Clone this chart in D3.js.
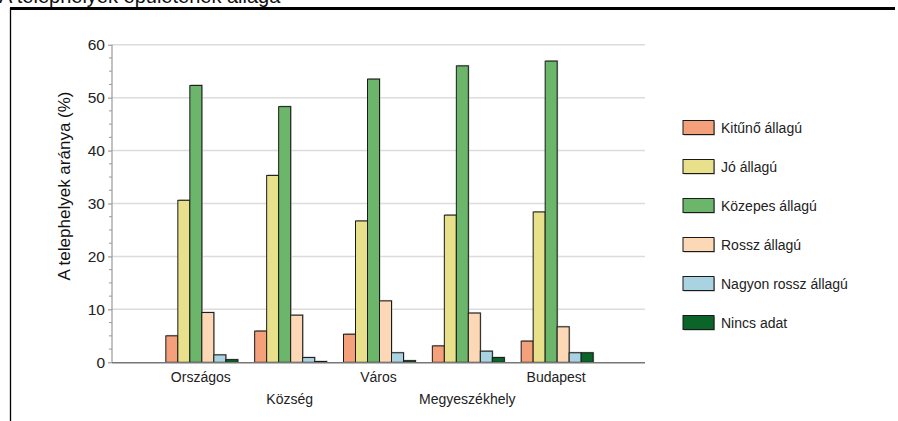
<!DOCTYPE html>
<html><head><meta charset="utf-8">
<script src="https://cdn.jsdelivr.net/npm/d3@7"></script>
<style>body{margin:0;background:#fff;}svg{display:block;font-family:"Liberation Sans",Arial,sans-serif;}</style>
</head><body><svg id="c" width="898" height="421"></svg>
<script>
const categories = ["Országos","Község","Város","Megyeszékhely","Budapest"];
const seriesNames = ["Kitűnő állagú","Jó állagú","Közepes állagú","Rossz állagú","Nagyon rossz állagú","Nincs adat"];
const kituno   = [5.0, 5.9, 5.3, 3.1, 4.0];
const jo       = [30.6, 35.3, 26.7, 27.8, 28.4];
const kozepes  = [52.3, 48.3, 53.5, 56.0, 56.9];
const rossz    = [9.4, 8.9, 11.6, 9.3, 6.7];
const nagyonRossz = [1.4, 0.9, 1.8, 2.1, 1.8];
const nincsAdat   = [0.5, 0.15, 0.3, 0.9, 1.8];
const yTicks = [0,10,20,30,40,50,60];
const colors = ["#f4a07a","#e8e08a","#6bb66a","#fcd8b6","#a9d3e0","#0b6428"];
const seriesValues = [kituno, jo, kozepes, rossz, nagyonRossz, nincsAdat];

const svg = d3.select("#c");
// title (clipped at top, as in the source) and frame
svg.append("text").attr("x",-1).attr("y",3).attr("font-size",20).attr("fill","#111")
  .text("A telephelyek épületének állaga");
svg.append("line").attr("x1",10).attr("x2",895).attr("y1",8.5).attr("y2",8.5).attr("stroke","#000").attr("stroke-width",3);
svg.append("line").attr("x1",10.5).attr("x2",10.5).attr("y1",8).attr("y2",421).attr("stroke","#000").attr("stroke-width",1.3);

const x0 = 112, x1 = 645, yb = 362.3, yt = 44.7;
const x = d3.scaleLinear().domain([0, categories.length+1]).range([x0, x1]);
const y = d3.scaleLinear().domain([0,60]).range([yb, yt]);
const inner = d3.scaleBand().domain(d3.range(seriesNames.length)).range([-35, 37]);

// gridlines
svg.append("g").selectAll("line").data(yTicks.filter(d=>d>0)).join("line")
  .attr("x1",x0).attr("x2",x1).attr("y1",d=>y(d)).attr("y2",d=>y(d))
  .attr("stroke","#dcdcdc").attr("stroke-width",1.5);

// y axis
const yAxis = d3.axisLeft(y).tickValues(yTicks).tickSize(4).tickPadding(3);
const gy = svg.append("g").attr("transform",`translate(${x0},0)`).call(yAxis);
gy.select(".domain").remove();
gy.selectAll(".tick line").attr("stroke","#888");
gy.selectAll(".tick text").attr("font-size",15.5).attr("fill","#222").attr("font-family","Liberation Sans, Arial, sans-serif");
const minor = d3.range(0,60.01,2.5).filter(d=>d%10!==0);
svg.append("g").selectAll("line").data(minor).join("line")
  .attr("x1",x0-3).attr("x2",x0).attr("y1",d=>y(d)).attr("y2",d=>y(d)).attr("stroke","#999");
svg.append("line").attr("x1",x0).attr("x2",x0).attr("y1",yt).attr("y2",yb).attr("stroke","#999").attr("stroke-width",1.2);

// bars
const data = [];
categories.forEach((c,i)=>seriesValues.forEach((s,j)=>data.push({i,j,v:s[i]})));
const bars = svg.append("g");
bars.selectAll("rect.sh").data(data).join("rect").attr("class","sh")
  .attr("x",d=>x(d.i+1)+inner(d.j)+1).attr("width",inner.bandwidth())
  .attr("y",d=>y(d.v)-1).attr("height",d=>yb-y(d.v)+1).attr("fill","#bbb");
bars.selectAll("rect.b").data(data).join("rect").attr("class","b")
  .attr("x",d=>x(d.i+1)+inner(d.j)).attr("width",inner.bandwidth())
  .attr("y",d=>y(d.v)).attr("height",d=>yb-y(d.v))
  .attr("fill",d=>colors[d.j]).attr("stroke","#1a1a1a").attr("stroke-width",1);

// x axis line
svg.append("line").attr("x1",x0).attr("x2",x1).attr("y1",yb+0.5).attr("y2",yb+0.5).attr("stroke","#777").attr("stroke-width",1.6);

// x labels (staggered)
svg.append("g").selectAll("text").data(categories).join("text")
  .attr("x",(d,i)=>x(i+1)).attr("y",(d,i)=>i%2===0?382:404)
  .attr("text-anchor","middle").attr("font-size",14).attr("fill","#222").text(d=>d);

// y title
svg.append("text").attr("transform","translate(70,186) rotate(-90)").attr("text-anchor","middle")
  .attr("font-size",17).attr("fill","#111").text("A telephelyek aránya (%)");

// legend
const lg = svg.append("g").selectAll("g").data(seriesNames).join("g")
  .attr("transform",(d,i)=>`translate(683,${127.5+i*39})`);
lg.append("rect").attr("x",1).attr("y",-6).attr("width",31).attr("height",14).attr("fill","#aaa");
lg.append("rect").attr("x",0).attr("y",-7).attr("width",31).attr("height",14)
  .attr("fill",(d,i)=>colors[i]).attr("stroke","#1a1a1a").attr("stroke-width",1);
lg.append("text").attr("x",38).attr("y",5).attr("font-size",14).attr("fill","#222").text(d=>d);
</script></body></html>
